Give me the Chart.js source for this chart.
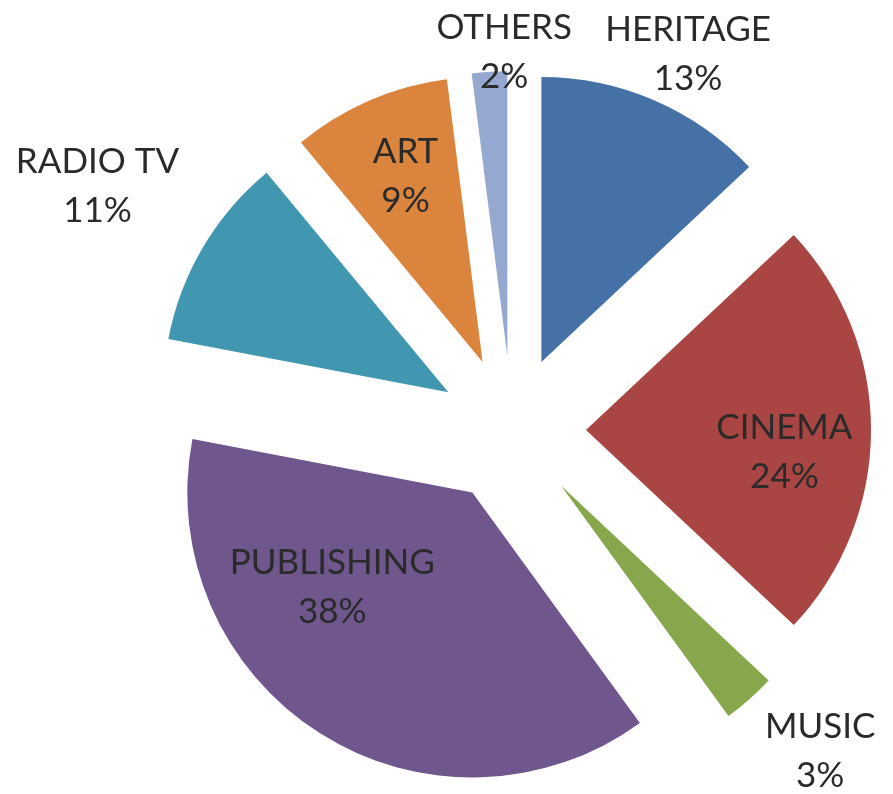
<!DOCTYPE html>
<html lang="en">
<head>
  <meta charset="UTF-8">
  <title>Sector shares</title>
  <script src="https://cdn.jsdelivr.net/npm/chart.js"></script>
  <style>
    html, body { margin: 0; padding: 0; background: #fff; }
    #wrap { width: 893px; height: 794px; position: relative; }
  </style>
</head>
<body>
<div id="wrap">
  <canvas id="pieChart"></canvas>
</div>

<script>
  // data (percent of total)
  const sectors = ['HERITAGE', 'CINEMA', 'MUSIC', 'PUBLISHING', 'RADIO TV', 'ART', 'OTHERS'];
  const shares = [13, 24, 3, 38, 11, 9, 2];
  const sliceColors = ['#4571A7', '#A94542', '#88A64C', '#6F578E', '#4197AF', '#DB843D', '#95A9D0'];

  // label placement: distance from slice tip (fraction of radius), angle tweak in degrees
  const labelDist = [1.20, 0.70, 1.30, 0.59, 1.43, 0.71, 1.07];
  const labelShift = [2, 6, -3, 24, 0, 1, 3];

  const explode = 74;   // px each slice is pulled out
  const pieRadius = 285;

  // pull every slice away from the centre along its bisector
  const explodePlugin = {
    id: 'explode',
    afterDatasetUpdate(chart, args) {
      args.meta.data.forEach((arc) => {
        const mid = (arc.startAngle + arc.endAngle) / 2;
        arc.x += Math.cos(mid) * explode;
        arc.y += Math.sin(mid) * explode;
      });
    }
  };

  // two line labels: name + percent
  const labelPlugin = {
    id: 'sliceLabels',
    afterDatasetsDraw(chart) {
      const ctx = chart.ctx;
      const meta = chart.getDatasetMeta(0);
      ctx.save();
      ctx.font = '35px Lato, "Open Sans", sans-serif';
      ctx.fillStyle = '#2a2a2a';
      ctx.textAlign = 'center';
      ctx.textBaseline = 'alphabetic';
      meta.data.forEach((arc, i) => {
        const mid = (arc.startAngle + arc.endAngle) / 2 + labelShift[i] * Math.PI / 180;
        const d = arc.outerRadius * labelDist[i];
        const cx = arc.x + Math.cos(mid) * d;
        const cy = arc.y + Math.sin(mid) * d;
        ctx.fillText(sectors[i], cx, cy - 24 + 12);
        ctx.fillText(shares[i] + '%', cx, cy + 25 + 12);
      });
      ctx.restore();
    }
  };

  const ctx = document.getElementById('pieChart').getContext('2d');
  new Chart(ctx, {
    type: 'pie',
    data: {
      labels: sectors,
      datasets: [{
        data: shares,
        backgroundColor: sliceColors,
        borderWidth: 0,
        clip: false
      }]
    },
    options: {
      responsive: true,
      maintainAspectRatio: false,
      animation: false,
      radius: pieRadius,
      layout: { padding: { left: 131, right: 0, top: 66, bottom: 0 } },
      plugins: {
        legend: { display: false },
        tooltip: { enabled: false }
      }
    },
    plugins: [explodePlugin, labelPlugin]
  });
</script>
</body>
</html>
